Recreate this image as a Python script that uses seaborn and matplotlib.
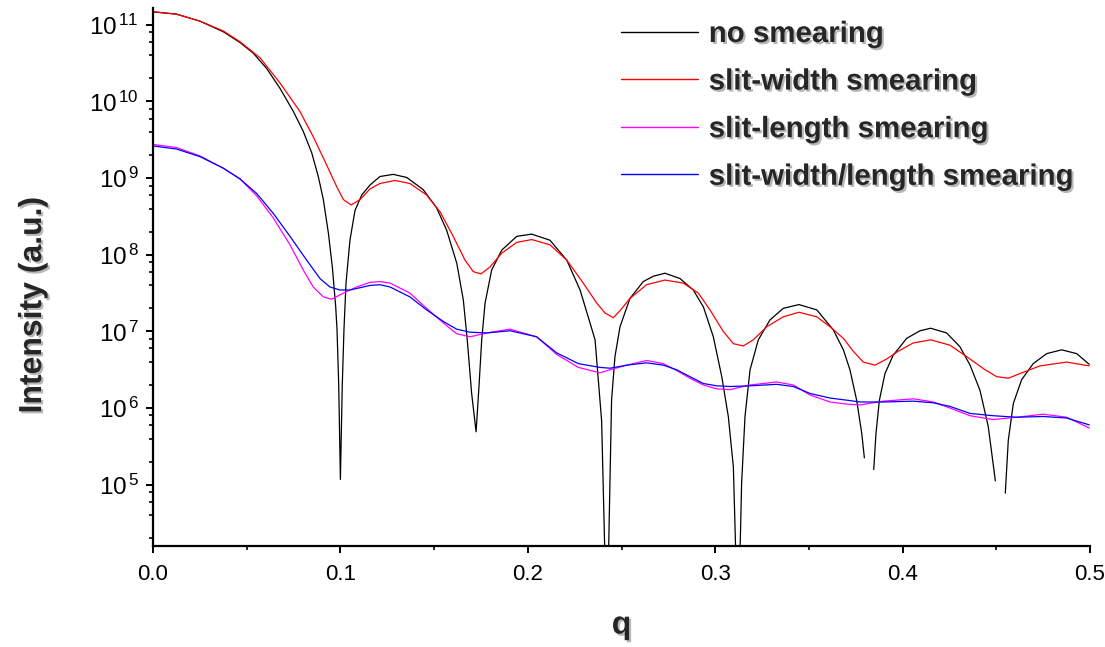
import numpy as np
import pandas as pd
import matplotlib
matplotlib.use("Agg")
import matplotlib.pyplot as plt
import seaborn as sns
from matplotlib import patheffects as pe
from matplotlib.lines import Line2D
from matplotlib.ticker import FixedLocator, LogLocator, MultipleLocator, FuncFormatter, NullFormatter, FormatStrFormatter

# ---------------- data ----------------
q_none = [0.0000, 0.0125, 0.0250, 0.0375, 0.0464, 0.0535, 0.0607, 0.0678, 0.0749, 0.0802,
          0.0847, 0.0882, 0.0909, 0.0936, 0.0957, 0.0975, 0.0982, 0.0991, 0.1000, 0.1010,
          0.1019, 0.1030, 0.1051, 0.1078, 0.1114, 0.1158, 0.1211, 0.1282, 0.1354, 0.1442,
          0.1514, 0.1567, 0.1621, 0.1656, 0.1677, 0.1700, 0.1724, 0.1740, 0.1754, 0.1772,
          0.1807, 0.1861, 0.1941, 0.2021, 0.2118, 0.2208, 0.2279, 0.2332, 0.2359, 0.2394,
          0.2422, 0.2447, 0.2465, 0.2492, 0.2545, 0.2616, 0.2670, 0.2732, 0.2812, 0.2883,
          0.2937, 0.2990, 0.3035, 0.3070, 0.3097, 0.3122, 0.3141, 0.3159, 0.3186, 0.3230,
          0.3292, 0.3363, 0.3447, 0.3542, 0.3630, 0.3684, 0.3719, 0.3755, 0.3782, 0.3796,
          0.3820, 0.3846, 0.3858, 0.3876, 0.3906, 0.3950, 0.4022, 0.4093, 0.4150, 0.4235,
          0.4306, 0.4360, 0.4413, 0.4457, 0.4495, 0.4520, 0.4548, 0.4564, 0.4591, 0.4635,
          0.4697, 0.4769, 0.4849, 0.4929, 0.4996]
I_none = [1.48e11, 1.38e11, 1.12e11, 8.13e10, 5.89e10, 4.27e10, 2.69e10, 1.48e10, 7.41e9, 4.07e9,
          2.14e9, 1.05e9, 5.25e8, 1.91e8, 6.92e7, 2.09e7, 1.05e7, 2.00e6, 1.17e5, 2.00e6,
          1.05e7, 4.27e7, 1.55e8, 3.80e8, 6.03e8, 8.13e8, 1.05e9, 1.12e9, 1.02e9, 7.08e8,
          4.07e8, 2.09e8, 7.76e7, 2.57e7, 7.76e6, 1.58e6, 4.90e5, 2.00e6, 7.76e6, 2.34e7,
          6.31e7, 1.15e8, 1.74e8, 1.86e8, 1.55e8, 8.51e7, 3.47e7, 1.29e7, 7.76e6, 6.76e5,
          1.0e3, 1.26e6, 4.68e6, 1.15e7, 2.69e7, 4.47e7, 5.25e7, 5.75e7, 4.90e7, 3.47e7,
          2.09e7, 8.51e6, 2.57e6, 7.76e5, 1.70e5, 1.0e3, 1.05e5, 7.76e5, 3.16e6, 7.76e6,
          1.41e7, 2.00e7, 2.24e7, 1.91e7, 1.05e7, 5.75e6, 3.16e6, 1.26e6, 4.68e5, 2.24e5,
          np.nan, 1.58e5, 4.68e5, 1.26e6, 2.82e6, 4.90e6, 8.13e6, 1.02e7, 1.10e7, 9.55e6,
          6.31e6, 3.63e6, 1.70e6, 5.75e5, 1.12e5, np.nan, 7.76e4, 3.80e5, 1.15e6, 2.34e6,
          3.80e6, 5.13e6, 5.75e6, 5.13e6, 3.72e6]

q_width = [0.0000, 0.0125, 0.0250, 0.0375, 0.0464, 0.0571, 0.0678, 0.0784, 0.0855, 0.0927,
           0.0980, 0.1016, 0.1057, 0.1105, 0.1158, 0.1211, 0.1291, 0.1371, 0.1460, 0.1532,
           0.1602, 0.1665, 0.1709, 0.1750, 0.1798, 0.1861, 0.1941, 0.2021, 0.2118, 0.2208,
           0.2296, 0.2368, 0.2412, 0.2456, 0.2492, 0.2545, 0.2634, 0.2732, 0.2830, 0.2910,
           0.2972, 0.3043, 0.3097, 0.3150, 0.3203, 0.3275, 0.3363, 0.3447, 0.3542, 0.3613,
           0.3684, 0.3737, 0.3790, 0.3853, 0.3915, 0.3976, 0.4057, 0.4150, 0.4253, 0.4342,
           0.4440, 0.4502, 0.4564, 0.4626, 0.4733, 0.4875, 0.4996]
I_width = [1.48e11, 1.38e11, 1.12e11, 8.32e10, 6.03e10, 3.72e10, 1.74e10, 7.41e9, 3.47e9, 1.48e9,
           7.76e8, 5.25e8, 4.47e8, 5.25e8, 7.24e8, 8.51e8, 9.33e8, 8.51e8, 6.03e8, 3.63e8,
           1.74e8, 8.51e7, 6.03e7, 5.62e7, 6.92e7, 1.05e8, 1.45e8, 1.58e8, 1.35e8, 8.51e7,
           4.27e7, 2.34e7, 1.74e7, 1.51e7, 1.86e7, 2.69e7, 4.07e7, 4.68e7, 4.27e7, 3.16e7,
           1.91e7, 1.00e7, 6.92e6, 6.46e6, 7.76e6, 1.15e7, 1.55e7, 1.78e7, 1.55e7, 1.15e7,
           8.13e6, 5.50e6, 3.98e6, 3.63e6, 4.37e6, 5.50e6, 7.08e6, 7.76e6, 6.61e6, 4.68e6,
           3.16e6, 2.57e6, 2.45e6, 2.82e6, 3.55e6, 3.98e6, 3.55e6]

q_length = [0.0000, 0.0125, 0.0250, 0.0375, 0.0464, 0.0553, 0.0642, 0.0731, 0.0802, 0.0855,
            0.0909, 0.0953, 0.1016, 0.1087, 0.1158, 0.1211, 0.1265, 0.1371, 0.1460, 0.1549,
            0.1620, 0.1692, 0.1781, 0.1905, 0.2047, 0.2154, 0.2270, 0.2385, 0.2439, 0.2528,
            0.2634, 0.2723, 0.2794, 0.2865, 0.2937, 0.3008, 0.3079, 0.3186, 0.3328, 0.3417,
            0.3506, 0.3613, 0.3710, 0.3773, 0.3897, 0.4057, 0.4164, 0.4253, 0.4360, 0.4484,
            0.4609, 0.4751, 0.4875, 0.4996]
I_length = [2.75e9, 2.51e9, 1.95e9, 1.35e9, 9.77e8, 5.89e8, 3.02e8, 1.35e8, 6.31e7, 3.80e7,
            2.82e7, 2.63e7, 3.16e7, 3.80e7, 4.37e7, 4.47e7, 4.27e7, 3.16e7, 2.00e7, 1.29e7,
            9.33e6, 8.51e6, 9.55e6, 1.07e7, 8.51e6, 5.01e6, 3.39e6, 2.88e6, 3.16e6, 3.63e6,
            4.17e6, 3.80e6, 3.09e6, 2.45e6, 2.00e6, 1.78e6, 1.74e6, 2.00e6, 2.19e6, 2.00e6,
            1.48e6, 1.20e6, 1.12e6, 1.10e6, 1.23e6, 1.32e6, 1.20e6, 1.00e6, 7.94e5, 7.08e5,
            7.59e5, 8.32e5, 7.59e5, 5.50e5]

q_both = [0.0000, 0.0125, 0.0250, 0.0375, 0.0464, 0.0553, 0.0642, 0.0731, 0.0820, 0.0891,
          0.0944, 0.0998, 0.1051, 0.1158, 0.1211, 0.1265, 0.1371, 0.1460, 0.1549, 0.1620,
          0.1692, 0.1781, 0.1905, 0.2047, 0.2154, 0.2270, 0.2385, 0.2439, 0.2528, 0.2634,
          0.2723, 0.2794, 0.2865, 0.2937, 0.3008, 0.3079, 0.3186, 0.3328, 0.3417, 0.3506,
          0.3613, 0.3710, 0.3773, 0.3897, 0.4057, 0.4164, 0.4253, 0.4360, 0.4484, 0.4609,
          0.4751, 0.4875, 0.4996]
I_both = [2.63e9, 2.40e9, 1.91e9, 1.35e9, 9.77e8, 6.31e8, 3.47e8, 1.74e8, 8.51e7, 4.90e7,
          3.80e7, 3.47e7, 3.47e7, 3.98e7, 4.07e7, 3.80e7, 2.82e7, 1.91e7, 1.35e7, 1.07e7,
          9.77e6, 9.55e6, 1.02e7, 8.51e6, 5.25e6, 3.80e6, 3.39e6, 3.31e6, 3.63e6, 3.89e6,
          3.63e6, 3.16e6, 2.57e6, 2.09e6, 1.95e6, 1.91e6, 1.95e6, 2.04e6, 1.91e6, 1.55e6,
          1.35e6, 1.26e6, 1.20e6, 1.20e6, 1.23e6, 1.17e6, 1.05e6, 8.51e5, 7.94e5, 7.59e5,
          7.76e5, 7.41e5, 6.03e5]

labels = ["no smearing", "slit-width smearing", "slit-length smearing",
          "slit-width/length smearing"]
colors = ["black", "#ff0000", "#ff00ff", "#0000ff"]
xticks = [0.0, 0.1, 0.2, 0.3, 0.4, 0.5]
yticks = [1e5, 1e6, 1e7, 1e8, 1e9, 1e10, 1e11]

# ---------------- figure ----------------
sns.set_theme(style="ticks")
plt.rcParams["font.family"] = ["Liberation Sans", "DejaVu Sans"]
plt.rcParams["mathtext.fontset"] = "custom"
plt.rcParams["mathtext.rm"] = "Liberation Sans"
plt.rcParams["mathtext.it"] = "Liberation Sans:italic"
plt.rcParams["mathtext.bf"] = "Liberation Sans:bold"

fig = plt.figure(figsize=(11.05, 6.47), dpi=100)
ax = fig.add_axes([153 / 1105, 1 - 546 / 647, 937 / 1105, 538 / 647])

# black curve: split into continuous segments where values are missing
df_none = pd.DataFrame({"q": q_none, "I": I_none})
df_none["seg"] = df_none["I"].isna().cumsum()
df_none = df_none.dropna()

lw = 0.9
sns.lineplot(data=df_none, x="q", y="I", units="seg", estimator=None, sort=False,
             color=colors[0], lw=lw, ax=ax, legend=False)
series = [(q_width, I_width), (q_length, I_length), (q_both, I_both)]
for (qq, ii), c in zip(series, colors[1:]):
    sns.lineplot(x=qq, y=ii, estimator=None, sort=False, color=c, lw=lw, ax=ax)

ax.set_yscale("log")
ax.set_xlim(0, 0.5)
ax.set_ylim(10 ** 4.2, 10 ** 11.22)

ax.yaxis.set_major_locator(FixedLocator(yticks))
ax.yaxis.set_minor_locator(LogLocator(base=10, subs=[2, 4, 6, 8]))
ax.yaxis.set_major_formatter(FuncFormatter(
    lambda v, p: r"$\mathregular{10^{\,%d}}$" % int(round(np.log10(v)))))
ax.yaxis.set_minor_formatter(NullFormatter())
ax.set_xticks(xticks)
ax.xaxis.set_major_formatter(FormatStrFormatter("%.1f"))
ax.xaxis.set_minor_locator(MultipleLocator(0.05))

sns.despine(ax=ax)
for s in ["left", "bottom"]:
    ax.spines[s].set_linewidth(1.6)
    ax.spines[s].set_color("black")
ax.tick_params(axis="both", which="major", direction="out", length=5, width=1.4,
               color="black", labelcolor="black")
ax.tick_params(axis="both", which="minor", direction="out", length=3, width=1.2,
               color="black")
ax.tick_params(axis="x", which="major", pad=8, labelsize=16)
ax.tick_params(axis="y", which="major", pad=5, labelsize=17.5)

shadow = [pe.withSimplePatchShadow(offset=(1.5, -1.5), shadow_rgbFace="#888888", alpha=0.6)]

ax.set_xlabel("q", fontsize=23, fontweight="bold", path_effects=shadow)
ax.set_ylabel("Intensity (a.u.)", fontsize=23, fontweight="bold", path_effects=shadow)
ax.xaxis.set_label_coords(0.5, -0.12)
ax.yaxis.set_label_coords(-0.112, 0.448)

handles = [Line2D([], [], color=c, lw=1.0) for c in colors]
leg = ax.legend(handles, labels, loc="upper left",
                bbox_to_anchor=(621 / 1105, 1 - 20 / 647), bbox_transform=fig.transFigure,
                frameon=False, borderpad=0, borderaxespad=0,
                handlelength=2.6, handletextpad=0.38, labelspacing=0.665,
                prop={"size": 21.2, "weight": "bold"})
for t in leg.get_texts():
    t.set_path_effects(shadow)

fig.savefig("out.png", dpi=100)
